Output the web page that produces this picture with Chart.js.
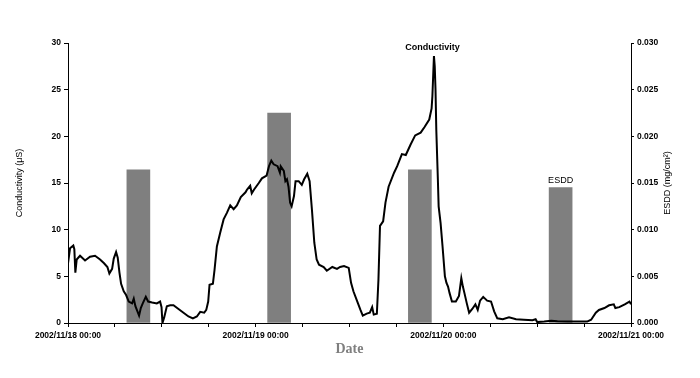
<!DOCTYPE html>
<html lang="en">
<head>
  <meta charset="UTF-8" />
  <title>Conductivity and ESDD</title>
  <script src="https://cdn.jsdelivr.net/npm/chart.js"></script>
  <style>
    body {
      margin: 0;
      padding: 0;
      background: #fff;
    }
    #wrap {
      width: 700px;
      height: 378px;
    }
  </style>
</head>
<body>

  <div id="wrap">
    <canvas id="chart" width="700" height="378"></canvas>
  </div>

  <script>
    // hours since 2002/11/18 00:00
    const condHours = [
      0, 0.26, 0.68, 0.81, 0.94, 1.11, 1.54, 2.18, 2.82, 3.46, 4.1, 4.61, 5.04, 5.29, 5.64, 5.85,
      6.15, 6.36, 6.58, 6.79, 7.13, 7.43, 7.77, 8.2, 8.41, 8.62, 8.88, 9.09, 9.31, 9.56, 9.95,
      10.25, 10.76, 11.36, 11.78, 11.96, 12.08, 12.3, 12.64, 13.07, 13.49, 14.13, 14.77, 15.41,
      15.97, 16.48, 16.91, 17.42, 17.68, 17.93, 18.1, 18.53, 18.74, 19.04, 19.47, 19.9, 20.32,
      20.75, 21.18, 21.6, 22.1, 22.7, 22.9, 23.3, 23.5, 23.8, 24.4, 24.8, 25.4, 25.7, 26.0,
      26.3, 26.8, 27.1, 27.2, 27.6, 27.8, 28.0, 28.2, 28.4, 28.6, 28.9, 29.1, 29.5, 29.9, 30.2,
      30.6, 30.9, 31.2, 31.5, 31.8, 32.1, 32.7, 33.1, 33.8, 34.4, 34.8, 35.3, 35.9, 36.2, 36.5,
      37.0, 37.4, 37.7, 38.2, 38.6, 38.9, 39.1, 39.5, 39.7, 39.9, 40.3, 40.6, 41.0, 41.7, 42.1,
      42.7, 43.2, 43.8, 44.4, 45.1, 45.6, 46.2, 46.5, 46.6, 46.8, 46.9, 47.0, 47.1, 47.3, 47.4,
      47.65, 47.9, 48.2, 48.4, 48.6, 48.8, 49.1, 49.6, 50.0, 50.3, 50.5, 50.7, 51.0, 51.3, 51.7,
      52.1, 52.4, 52.7, 53.1, 53.6, 54.1, 54.5, 54.9, 55.6, 56.4, 57.3, 58.3, 59.4, 59.8, 60.0,
      60.9, 61.8, 62.6, 63.9, 65.6, 66.4, 66.9, 67.5, 67.9, 68.6, 69.2, 69.8, 70.0, 70.5, 71.2,
      71.8, 72.0
    ];
    const condValues = [
      6.4, 8.0, 8.3, 7.9, 5.4, 6.8, 7.2, 6.7, 7.1, 7.2, 6.8, 6.4, 6.0, 5.3, 5.8, 6.9,
      7.6, 7.0, 5.4, 4.2, 3.4, 3.0, 2.3, 2.1, 2.6, 1.8, 1.25, 0.8, 1.6, 2.1, 2.8,
      2.3, 2.2, 2.1, 2.3, 1.7, 0, 0.6, 1.8, 1.9, 1.9, 1.5, 1.1, 0.7,
      0.5, 0.7, 1.2, 1.1, 1.4, 2.3, 4.1, 4.2, 5.7, 8.2, 9.7, 11.1, 11.8,
      12.6, 12.2, 12.6, 13.5, 14.0, 14.3, 14.7, 13.9, 14.3, 15.0, 15.5, 15.8, 16.8, 17.4,
      17.0, 16.8, 16.1, 16.8, 16.3, 15.2, 15.4, 14.6, 12.9, 12.5, 13.6, 15.2, 15.2, 14.8, 15.4,
      16.0, 15.2, 12.1, 8.6, 6.8, 6.25, 6.0, 5.6, 6.0, 5.8, 6.0, 6.1, 5.9, 4.3, 3.4,
      2.3, 1.4, 0.8, 1.0, 1.1, 1.7, 0.9, 1.0, 4.6, 10.4, 10.9, 12.9, 14.6, 16.1, 16.8,
      18.1, 18.0, 19.1, 20.1, 20.4, 21.0, 21.8, 23.0, 24.3, 28.6, 27.5, 25.0, 20.7, 15.4, 12.5,
      10.7, 8.2, 5.0, 4.3, 3.9, 3.2, 2.3, 2.3, 2.9, 4.8, 3.9, 3.2, 2.1, 1.1, 1.5,
      2.0, 1.4, 2.4, 2.8, 2.4, 2.3, 1.25, 0.5, 0.4, 0.6, 0.4, 0.35, 0.3, 0.4, 0.1,
      0.15, 0.25, 0.2, 0.15, 0.15, 0.15, 0.35, 1.1, 1.4, 1.6, 1.9, 2.0, 1.6, 1.7, 2.0,
      2.3, 2.0
    ];

    const esddHours = [9, 27, 45, 63];
    const esddValues = [0.0164, 0.0225, 0.0164, 0.0145];

    const xTickHours = [0, 24, 48, 72];
    const xTickLabels = ['2002/11/18 00:00', '2002/11/19 00:00', '2002/11/20 00:00', '2002/11/21 00:00'];

    const notes = [
      { text: 'Conductivity', x: 46.6, y: 29.55, axis: 'y', weight: 'bold' },
      { text: 'ESDD', x: 63, y: 0.0153, axis: 'y1', weight: 'normal' }
    ];
    const rightTitle = 'ESDD (mg/cm\u00b2)';

    const tickFont = { family: 'Liberation Sans, Arial, sans-serif', size: 8.5, weight: 'bold' };
    const titleFont = { family: 'Liberation Sans, Arial, sans-serif', size: 9, weight: 'normal' };

    // text notes plus the right axis title (reads bottom to top, like the left one)
    const notePlugin = {
      id: 'notes',
      afterDatasetsDraw(chart) {
        const ctx = chart.ctx;
        ctx.save();
        ctx.fillStyle = '#000';
        ctx.textAlign = 'center';
        ctx.textBaseline = 'middle';
        notes.forEach(n => {
          ctx.font = n.weight + ' 9px "Liberation Sans", Arial, sans-serif';
          const px = chart.scales.x.getPixelForValue(n.x);
          const py = chart.scales[n.axis].getPixelForValue(n.y);
          ctx.fillText(n.text, px, py);
        });
        const area = chart.chartArea;
        ctx.font = '9px "Liberation Sans", Arial, sans-serif';
        ctx.translate(area.right + 37, (area.top + area.bottom) / 2);
        ctx.rotate(-Math.PI / 2);
        ctx.fillText(rightTitle, 0, 0);
        ctx.restore();
      }
    };

    new Chart(document.getElementById('chart'), {
      type: 'bar',
      data: {
        datasets: [
          {
            type: 'line',
            label: 'Conductivity',
            data: condHours.map((h, i) => ({ x: h, y: condValues[i] })),
            borderColor: '#000',
            borderWidth: 2,
            pointRadius: 0,
            tension: 0,
            yAxisID: 'y',
            order: 0
          },
          {
            type: 'bar',
            label: 'ESDD',
            data: esddHours.map((h, i) => ({ x: h, y: esddValues[i] })),
            backgroundColor: '#7f7f7f',
            barThickness: 23,
            yAxisID: 'y1',
            order: 1
          }
        ]
      },
      options: {
        responsive: false,
        animation: false,
        devicePixelRatio: 1,
        layout: { padding: { top: 43 } },
        plugins: {
          legend: { display: false },
          tooltip: { enabled: false }
        },
        scales: {
          x: {
            type: 'linear',
            min: 0,
            max: 72,
            offset: false,
            grid: { offset: false, drawOnChartArea: false, color: '#000', tickLength: 4 },
            border: { color: '#000', width: 1 },
            ticks: {
              stepSize: 6,
              autoSkip: false,
              maxRotation: 0,
              padding: 4,
              color: '#000',
              font: tickFont,
              callback: v => {
                const i = xTickHours.indexOf(v);
                return i >= 0 ? xTickLabels[i] : '';
              }
            },
            title: {
              display: true,
              text: 'Date',
              color: '#7f7f7f',
              font: { family: 'Liberation Serif, Times New Roman, serif', size: 14, weight: 'bold' },
              padding: { top: 0, bottom: 20 }
            },
            afterFit: s => { s.height = 55; }
          },
          y: {
            position: 'left',
            min: 0,
            max: 30,
            grid: { drawOnChartArea: false, color: '#000', tickLength: 4 },
            border: { color: '#000', width: 1 },
            ticks: { stepSize: 5, padding: 3, color: '#000', font: tickFont },
            title: {
              display: true,
              text: 'Conductivity (\u03bcS)',
              color: '#000',
              font: titleFont,
              padding: { top: 14, bottom: 0 }
            },
            afterFit: s => { s.width = 68; }
          },
          y1: {
            position: 'right',
            min: 0,
            max: 0.03,
            grid: { drawOnChartArea: false, color: '#000', tickLength: 3 },
            border: { color: '#000', width: 1 },
            ticks: {
              stepSize: 0.005,
              padding: 3,
              color: '#000',
              font: tickFont,
              callback: v => v.toFixed(3)
            },
            afterFit: s => { s.width = 69; }
          }
        }
      },
      plugins: [notePlugin]
    });
  </script>

</body>
</html>
